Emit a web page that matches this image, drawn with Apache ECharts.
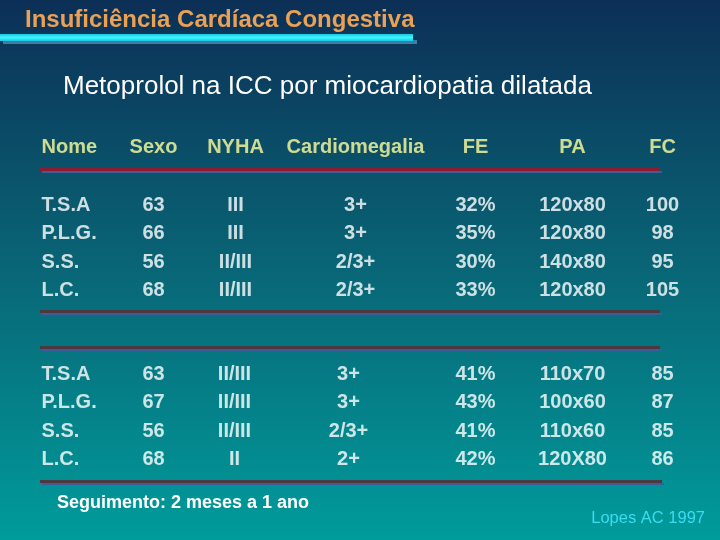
<!DOCTYPE html>
<html>
<head>
<meta charset="utf-8">
<script src="https://cdn.jsdelivr.net/npm/echarts@6/dist/echarts.min.js"></script>
<style>
  html, body { margin: 0; padding: 0; background: #0b3055; }
  #chart { width: 720px; height: 540px; }
</style>
</head>
<body>
<div id="chart"></div>
<script>
// table content
const headers = ["Nome", "Sexo", "NYHA", "Cardiomegalia", "FE", "PA", "FC"];
const names = ["T.S.A", "P.L.G.", "S.S.", "L.C."];

const sexoA = ["63", "66", "56", "68"];
const nyhaA = ["III", "III", "II/III", "II/III"];
const cardioA = ["3+", "3+", "2/3+", "2/3+"];
const feA = ["32%", "35%", "30%", "33%"];
const paA = ["120x80", "120x80", "140x80", "120x80"];
const fcA = ["100", "98", "95", "105"];

const sexoB = ["63", "67", "56", "68"];
const nyhaB = ["II/III", "II/III", "II/III", "II"];
const cardioB = ["3+", "3+", "2/3+", "2+"];
const feB = ["41%", "43%", "41%", "42%"];
const paB = ["110x70", "100x60", "110x60", "120X80"];
const fcB = ["85", "87", "85", "86"];

// layout (pixel coords on the hidden axes)
const colXA = [42, 154, 236, 356, 476, 573, 663];
const colXB = [42, 154, 235, 349, 476, 573, 663];
const headerY = 146;
const rowYA = [204, 232, 261, 289];
const rowYB = [373, 401, 430, 458];

const FONT = "'Liberation Sans', Arial, sans-serif";

function cells(cols, xs, ys) {
  const out = [];
  cols.forEach((col, c) => {
    col.forEach((txt, r) => {
      out.push({
        value: [xs[c], ys[r], txt],
        label: { align: c === 0 ? "left" : "center" }
      });
    });
  });
  return out;
}

function textSeries(name, data, color) {
  return {
    name: name,
    type: "scatter",
    symbolSize: 1,
    itemStyle: { color: "transparent" },
    silent: true,
    data: data,
    label: {
      show: true,
      position: [0, 0],
      offset: [0, 2],
      verticalAlign: "middle",
      formatter: (p) => p.value[2],
      color: color,
      fontFamily: FONT,
      fontSize: 20,
      fontWeight: "bold",
      textShadowColor: "rgba(0,20,40,0.6)",
      textShadowOffsetX: 1,
      textShadowOffsetY: 1,
      textShadowBlur: 0
    }
  };
}

const headerData = headers.map((h, i) => ({
  value: [colXA[i], headerY, h],
  label: { align: i === 0 ? "left" : "center" }
}));

const groupA = cells([names, sexoA, nyhaA, cardioA, feA, paA, fcA], colXA, rowYA);
const groupB = cells([names, sexoB, nyhaB, cardioB, feB, paB, fcB], colXB, rowYB);

// separator band: dark line with a blue edge underneath
function rule(y, color, x2) {
  return [
    { type: "rect", shape: { x: 42, y: y + 2, width: x2 - 40, height: 2 }, style: { fill: "#3e5c9a" } },
    { type: "rect", shape: { x: 40, y: y - 1, width: x2 - 40, height: 3 }, style: { fill: color } }
  ];
}

const shadow = {
  textShadowColor: "rgba(0,20,40,0.6)", textShadowOffsetX: 1, textShadowOffsetY: 1, textShadowBlur: 0
};

const chart = echarts.init(document.getElementById("chart"));

const option = {
  animation: false,
  backgroundColor: new echarts.graphic.LinearGradient(0, 0, 0, 1, [
    { offset: 0, color: "#0c2f56" },
    { offset: 0.5, color: "#096676" },
    { offset: 1, color: "#009b9b" }
  ]),
  title: [
    {
      text: "Insuficiência Cardíaca Congestiva",
      left: 25,
      top: 8,
      padding: 0,
      textStyle: { color: "#eaa055", fontFamily: FONT, fontSize: 24, fontWeight: "bold" }
    },
    {
      text: "Metoprolol na ICC por miocardiopatia dilatada",
      left: 63,
      top: 74,
      padding: 0,
      textStyle: Object.assign({ color: "#ffffff", fontFamily: FONT, fontSize: 26, fontWeight: "normal" }, shadow)
    },
    {
      text: "Seguimento: 2 meses a 1 ano",
      left: 57,
      top: 494,
      padding: 0,
      textStyle: Object.assign({ color: "#ffffff", fontFamily: FONT, fontSize: 18, fontWeight: "bold" }, shadow)
    },
    {
      text: "Lopes AC 1997",
      right: 15,
      top: 510,
      padding: 0,
      textStyle: { color: "#3cdcf0", fontFamily: FONT, fontSize: 16.5, fontWeight: "normal" }
    }
  ],
  graphic: [
    { type: "rect", shape: { x: 3, y: 40, width: 414, height: 4 }, style: { fill: "#3a7fa8" } },
    {
      type: "rect",
      shape: { x: 0, y: 34, width: 413, height: 7 },
      style: {
        fill: new echarts.graphic.LinearGradient(0, 0, 0, 1, [
          { offset: 0, color: "#18c8e0" },
          { offset: 0.5, color: "#3ef4ff" },
          { offset: 1, color: "#18c8e0" }
        ])
      }
    },
    ...rule(169, "#8e1c2e", 660),
    ...rule(311, "#4a3a40", 660),
    ...rule(347, "#4a3a40", 660),
    ...rule(481, "#4a3a40", 662)
  ],
  grid: { left: 0, right: 0, top: 0, bottom: 0 },
  xAxis: { type: "value", min: 0, max: 720, show: false },
  yAxis: { type: "value", min: 0, max: 540, inverse: true, show: false },
  series: [
    textSeries("header", headerData, "#ffff9c"),
    textSeries("grupo1", groupA, "#ffffff"),
    textSeries("grupo2", groupB, "#ffffff")
  ]
};

chart.setOption(option);
</script>
</body>
</html>
